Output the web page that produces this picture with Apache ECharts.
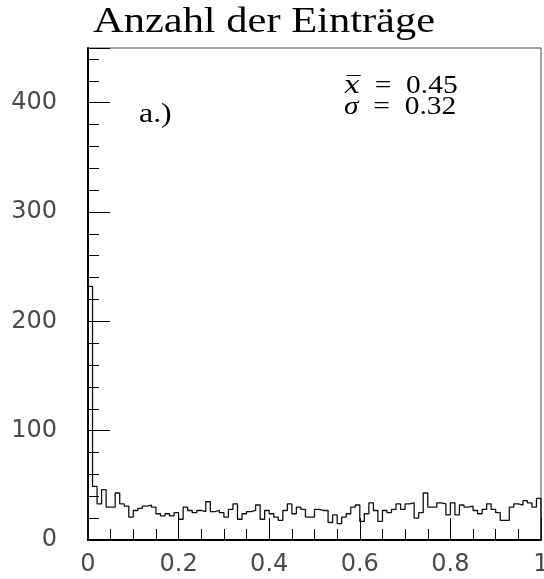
<!DOCTYPE html>
<html>
<head>
<meta charset="utf-8">
<script src="https://cdn.jsdelivr.net/npm/echarts@6/dist/echarts.min.js"></script>
<style>
  html, body { margin: 0; padding: 0; background: #fff; }
  #chart { width: 544px; height: 579px; }
</style>
</head>
<body>
<div id="chart"></div>
<script>
// histogram: 100 bins of width 0.01 between 0 and 1
const binStart = 0
const binWidth = 0.01
const counts = [
  232, 49, 33, 46, 30, 30, 43, 33, 31, 21,
  27, 29, 31, 32, 30, 24, 22, 24, 22, 25,
  19, 30, 27, 25, 27, 26, 35, 26, 27, 25,
  21, 28, 33, 19, 24, 26, 27, 32, 19, 27,
  24, 21, 18, 27, 33, 24, 30, 28, 21, 21,
  28, 27, 27, 16, 23, 15, 21, 24, 30, 32,
  17, 24, 34, 27, 17, 27, 25, 28, 33, 28,
  33, 34, 20, 25, 43, 30, 30, 34, 33, 23,
  34, 23, 32, 30, 31, 27, 24, 28, 33, 28,
  25, 18, 18, 30, 33, 32, 36, 34, 30, 38,
]
const yTickLabels = [0, 100, 200, 300, 400]
const xTickLabels = ['0', '0.2', '0.4', '0.6', '0.8', '1']
const title = 'Anzahl der Einträge'
const panelTag = 'a.)'
const meanText = '0.45'
const sigmaText = '0.32'

// step outline: rise at x=0, hold each bin, drop at x=1
const stepData = [[binStart, 0]]
counts.forEach((c, i) => stepData.push([binStart + i * binWidth, c]))
const xEnd = binStart + counts.length * binWidth
stepData.push([xEnd, counts[counts.length - 1]], [xEnd, 0])

const tickFont = { fontFamily: 'DejaVu Sans', fontSize: 24, color: '#4a4a4a' }
const gridBox = { left: 88, top: 48, right: 3, bottom: 39, outerBoundsMode: 'none', containLabel: false }
const serifStretch = 1.18 // TeX fonts run wider than Times

const chart = echarts.init(document.getElementById('chart'), null, { renderer: 'canvas' })
chart.setOption({
  animation: false,
  grid: [
    { ...gridBox, show: true, borderColor: '#444', borderWidth: 1, backgroundColor: 'transparent' },
    { ...gridBox, show: false },
  ],
  xAxis: [
    {
      type: 'value', gridIndex: 0, min: 0, max: 1, interval: 0.05,
      axisLine: { lineStyle: { color: '#000', width: 2 } },
      axisTick: { inside: true, length: 11, lineStyle: { color: '#000', width: 1 } },
      splitLine: { show: false },
      axisLabel: {
        ...tickFont, margin: 13, showMaxLabel: true, showMinLabel: true,
        formatter: (v) => {
          const k = Math.round(v * 5)
          return Math.abs(v * 5 - k) < 1e-6 ? xTickLabels[k] : ''
        },
      },
    },
    {
      type: 'value', gridIndex: 1, min: 0, max: 1, interval: 0.2,
      axisLine: { show: false },
      axisTick: { inside: true, length: 22, lineStyle: { color: '#000', width: 1 } },
      axisLabel: { show: false },
      splitLine: { show: false },
    },
  ],
  yAxis: [
    {
      type: 'value', gridIndex: 0, min: 0, max: 450, interval: 20,
      axisLine: { show: true, lineStyle: { color: '#000', width: 2 } },
      axisTick: { show: true, inside: true, length: 11, lineStyle: { color: '#000', width: 1 } },
      splitLine: { show: false },
      axisLabel: {
        ...tickFont, margin: 31,
        formatter: (v) => (yTickLabels.includes(v) ? String(v) : ''),
      },
    },
    {
      type: 'value', gridIndex: 1, min: 0, max: 450, interval: 100,
      axisLine: { show: false },
      axisTick: { show: true, inside: true, length: 22, lineStyle: { color: '#000', width: 1 } },
      axisLabel: { show: false },
      splitLine: { show: false },
    },
  ],
  series: [{
    type: 'line', xAxisIndex: 0, yAxisIndex: 0, step: 'end',
    data: stepData, showSymbol: false, z: 5,
    lineStyle: { color: '#111', width: 1.3 },
  }],
  graphic: [
    {
      type: 'text', x: 93, y: 5, scaleX: serifStretch,
      style: { text: title, font: '36px "Liberation Serif"', fill: '#000' },
    },
    {
      type: 'text', x: 139, y: 101, scaleX: serifStretch,
      style: { text: panelTag, font: '27px "Liberation Serif"', fill: '#000' },
    },
    {
      type: 'text', x: 344, y: 74, scaleX: serifStretch,
      style: {
        text: '{i|x\u0305}\u2002=\u2002' + meanText, font: '25px "Liberation Serif"', fill: '#000',
        rich: { i: { fontStyle: 'italic', fontFamily: 'DejaVu Serif', fontSize: 24 } },
      },
    },
    {
      type: 'text', x: 344, y: 95, scaleX: serifStretch,
      style: {
        text: '{i|σ}\u2002=\u2002' + sigmaText, font: '25px "Liberation Serif"', fill: '#000',
        rich: { i: { fontStyle: 'italic', fontFamily: 'Liberation Serif', fontSize: 25 } },
      },
    },
  ],
})
</script>
</body>
</html>
